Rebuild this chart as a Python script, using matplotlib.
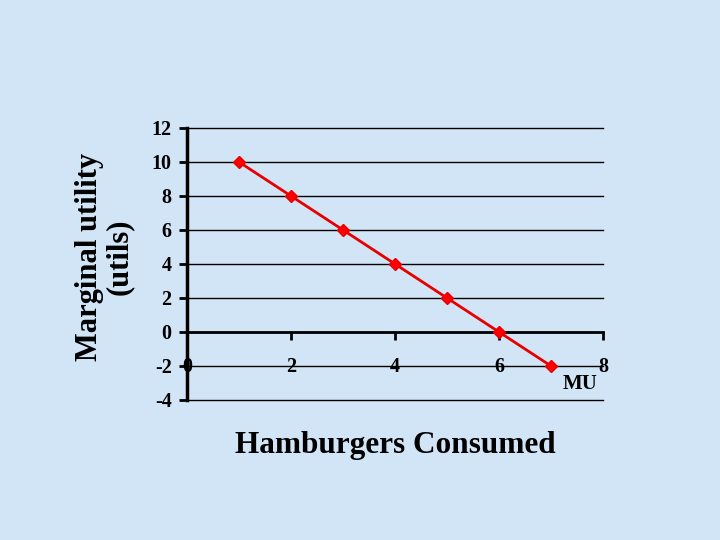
import matplotlib
matplotlib.use("Agg")
import matplotlib.pyplot as plt

hamburgers = [1, 2, 3, 4, 5, 6, 7]
marginal_utility = [10, 8, 6, 4, 2, 0, -2]
x_ticks = [0, 2, 4, 6, 8]
y_ticks = [-4, -2, 0, 2, 4, 6, 8, 10, 12]

bg = "#d2e5f6"
fig = plt.figure(figsize=(7.2, 5.4), dpi=100, facecolor=bg)
ax = fig.add_axes([0.2597, 0.2593, 0.5778, 0.5037])
ax.set_facecolor(bg)
serif = "Liberation Serif"

ax.plot(hamburgers, marginal_utility, color="#e80000", lw=2, marker="D",
        markersize=6.5, markerfacecolor="#ff0000", markeredgecolor="#e80000", zorder=5)

for v in y_ticks:
    ax.axhline(v, color="black", lw=1, zorder=1, clip_on=False)

for s in ["top", "right"]:
    ax.spines[s].set_visible(False)
ax.spines["bottom"].set_position(("data", 0))
ax.spines["bottom"].set_linewidth(2)
ax.spines["left"].set_linewidth(2.5)
ax.spines["bottom"].set_zorder(3)

ax.set_xlim(0, 8)
ax.set_ylim(-4, 12)
ax.set_yticks(y_ticks)
ax.set_xticks(x_ticks)
ax.set_yticklabels([str(v) for v in y_ticks])
ax.set_xticklabels([str(v) for v in x_ticks])
for lab in ax.get_xticklabels() + ax.get_yticklabels():
    lab.set_fontfamily(serif)
    lab.set_fontweight("bold")
    lab.set_fontsize(14.5)
ax.tick_params(axis="x", direction="out", length=6, width=2, pad=12)
ax.tick_params(axis="y", direction="out", length=6, width=2, pad=5)

fig.text(0.145, 1 - 257/540, "Marginal utility\n(utils)", rotation=90, ha="center", va="center",
         fontfamily=serif, fontweight="bold", fontsize=22, linespacing=1.0, multialignment="center")
fig.text(395/720, 1 - 445/540, "Hamburgers Consumed", ha="center", va="center",
         fontfamily=serif, fontweight="bold", fontsize=22.5)
fig.text(580/720, 1 - 384/540, "MU", ha="center", va="center",
         fontfamily=serif, fontweight="bold", fontsize=15)

fig.savefig("out.png", dpi=100, facecolor=bg)
